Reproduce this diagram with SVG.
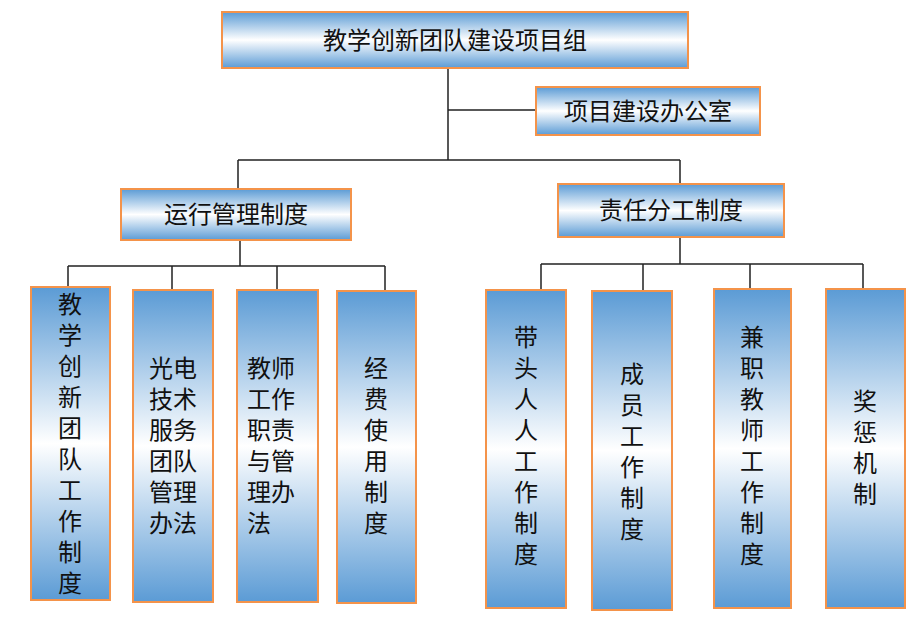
<svg xmlns="http://www.w3.org/2000/svg" width="917" height="623" viewBox="0 0 917 623">
<defs>
<linearGradient id="g" x1="0" y1="0" x2="0" y2="1">
<stop offset="0" stop-color="#5b9bd5"/><stop offset="0.5" stop-color="#ffffff"/><stop offset="1" stop-color="#5b9bd5"/>
</linearGradient>
</defs>
<style>
.b{fill:url(#g);stroke:#f4934a;stroke-width:2}
.t{font-family:"Noto Sans CJK SC","Liberation Sans",sans-serif;font-size:24px;fill:#111;text-anchor:middle}
.l{text-anchor:start}
.c{fill:none;stroke:#222;stroke-width:1.5}
</style>
<rect width="917" height="623" fill="#fff"/>
<g id="connectors" class="c">
<path d="M448 68V160M448 110H536M238 160H680M238 160V189M680 160V184"/>
<path d="M240 240V266M68 266H385M68 266V288M172 266V290M277 266V290M385 266V291"/>
<path d="M680 237V264M541 264H863M541 264V290M643 264V291M750 264V289M863 264V289"/>
</g>
<g id="n0"><rect class="b" x="222" y="12" width="466" height="56"/><text class="t" x="455" y="49">教学创新团队建设项目组</text></g>
<g id="n1"><rect class="b" x="536" y="87" width="224" height="48"/><text class="t" x="648" y="120">项目建设办公室</text></g>
<g id="n2"><rect class="b" x="121" y="189" width="230" height="51"/><text class="t" x="236" y="223">运行管理制度</text></g>
<g id="n3"><rect class="b" x="558" y="184" width="226" height="53"/><text class="t" x="671" y="219">责任分工制度</text></g>
<g id="n4"><rect class="b" x="31" y="287" width="79" height="313"/>
<text class="t" x="70"><tspan x="70" y="313">教</tspan><tspan x="70" y="344">学</tspan><tspan x="70" y="375">创</tspan><tspan x="70" y="406">新</tspan><tspan x="70" y="437">团</tspan><tspan x="70" y="468">队</tspan><tspan x="70" y="499">工</tspan><tspan x="70" y="530">作</tspan><tspan x="70" y="561">制</tspan><tspan x="70" y="592">度</tspan></text></g>
<g id="n5"><rect class="b" x="133" y="290" width="80" height="312"/>
<text class="t" x="173"><tspan x="173" y="377">光电</tspan><tspan x="173" y="408">技术</tspan><tspan x="173" y="439">服务</tspan><tspan x="173" y="470">团队</tspan><tspan x="173" y="501">管理</tspan><tspan x="173" y="532">办法</tspan></text></g>
<g id="n6"><rect class="b" x="237" y="290" width="81" height="312"/>
<text class="t l" x="247"><tspan x="247" y="377">教师</tspan><tspan x="247" y="408">工作</tspan><tspan x="247" y="439">职责</tspan><tspan x="247" y="470">与管</tspan><tspan x="247" y="501">理办</tspan><tspan x="247" y="532">法</tspan></text></g>
<g id="n7"><rect class="b" x="337" y="291" width="79" height="312"/>
<text class="t" x="376"><tspan x="376" y="377">经</tspan><tspan x="376" y="408">费</tspan><tspan x="376" y="439">使</tspan><tspan x="376" y="470">用</tspan><tspan x="376" y="501">制</tspan><tspan x="376" y="532">度</tspan></text></g>
<g id="n8"><rect class="b" x="486" y="290" width="80" height="318"/>
<text class="t" x="526"><tspan x="526" y="346">带</tspan><tspan x="526" y="377">头</tspan><tspan x="526" y="408">人</tspan><tspan x="526" y="439">人</tspan><tspan x="526" y="470">工</tspan><tspan x="526" y="501">作</tspan><tspan x="526" y="532">制</tspan><tspan x="526" y="563">度</tspan></text></g>
<g id="n9"><rect class="b" x="592" y="291" width="80" height="319"/>
<text class="t" x="632"><tspan x="632" y="383">成</tspan><tspan x="632" y="414">员</tspan><tspan x="632" y="445">工</tspan><tspan x="632" y="476">作</tspan><tspan x="632" y="507">制</tspan><tspan x="632" y="538">度</tspan></text></g>
<g id="n10"><rect class="b" x="714" y="289" width="77" height="319"/>
<text class="t" x="752"><tspan x="752" y="346">兼</tspan><tspan x="752" y="377">职</tspan><tspan x="752" y="408">教</tspan><tspan x="752" y="439">师</tspan><tspan x="752" y="470">工</tspan><tspan x="752" y="501">作</tspan><tspan x="752" y="532">制</tspan><tspan x="752" y="563">度</tspan></text></g>
<g id="n11"><rect class="b" x="826" y="289" width="79" height="319"/>
<text class="t" x="865"><tspan x="865" y="410">奖</tspan><tspan x="865" y="441">惩</tspan><tspan x="865" y="472">机</tspan><tspan x="865" y="503">制</tspan></text></g>
</svg>
